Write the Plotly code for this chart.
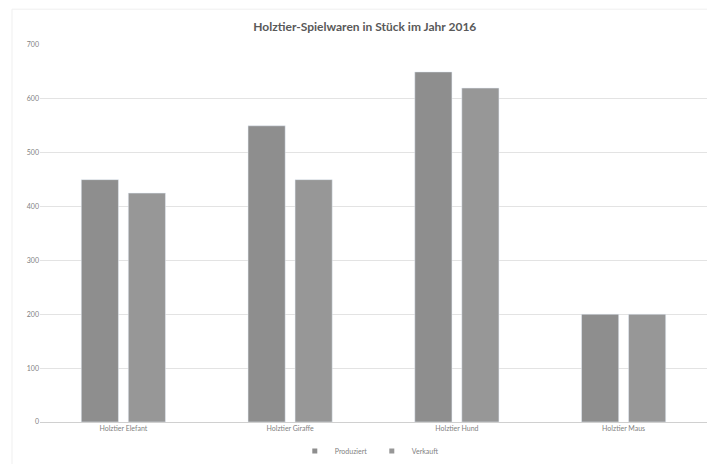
import plotly.graph_objects as go

categories = ["Holztier Elefant", "Holztier Giraffe", "Holztier Hund", "Holztier Maus"]
produziert = [450, 550, 650, 200]
verkauft = [425, 450, 620, 200]
y_ticks = [0, 100, 200, 300, 400, 500, 600, 700]
series_names = ["Produziert", "Verkauft"]
series_colors = ["#8e8e8e", "#979797"]

font = "Lato, Open Sans, sans-serif"

fig = go.Figure()
for name, vals, col in zip(series_names, [produziert, verkauft], series_colors):
    fig.add_trace(go.Bar(name=name, x=categories, y=vals, marker_color=col, showlegend=False))
# small square legend entries
for name, col in zip(series_names, series_colors):
    fig.add_trace(go.Scatter(name=name, x=[None], y=[None], mode="markers",
                             marker=dict(symbol="square", size=5, color=col)))

fig.update_layout(
    width=707, height=464,
    margin=dict(l=40, r=0, t=45, b=42, autoexpand=False),
    paper_bgcolor="white", plot_bgcolor="white",
    barmode="group", bargap=0.436, bargroupgap=0.21,
    title=dict(text="<b>Holztier-Spielwaren in Stück im Jahr 2016</b>",
               x=0.516, xanchor="center", y=0.942, yanchor="middle",
               font=dict(family=font, size=12, color="#595959")),
    font=dict(family=font, size=7, color="#7f7f7f"),
    showlegend=True,
    legend=dict(orientation="h", x=0.382, xanchor="left", y=-0.077, yanchor="middle",
                font=dict(size=7, color="#7f7f7f"), itemwidth=30,
                entrywidth=32, entrywidthmode="pixels",
                tracegroupgap=0, bgcolor="rgba(0,0,0,0)"),
    yaxis=dict(range=[0, 700], tickvals=y_ticks, showgrid=True, gridcolor="#e3e3e3",
               gridwidth=1, zeroline=False, showline=False, ticks="", ticklen=0,
               tickfont=dict(size=7, color="#7f7f7f")),
    xaxis=dict(showline=True, linecolor="#d0d0d0", linewidth=1, ticks="",
               tickfont=dict(size=7, color="#7f7f7f")),
    shapes=[dict(type="rect", xref="paper", yref="paper", x0=-0.042, x1=1.02, y0=-0.2, y1=1.095,
                 line=dict(color="#efefef", width=1))],
)

fig.write_html("out.html", config={"displayModeBar": False},
               post_script="document.body.style.margin='0';document.body.style.overflow='hidden';")
